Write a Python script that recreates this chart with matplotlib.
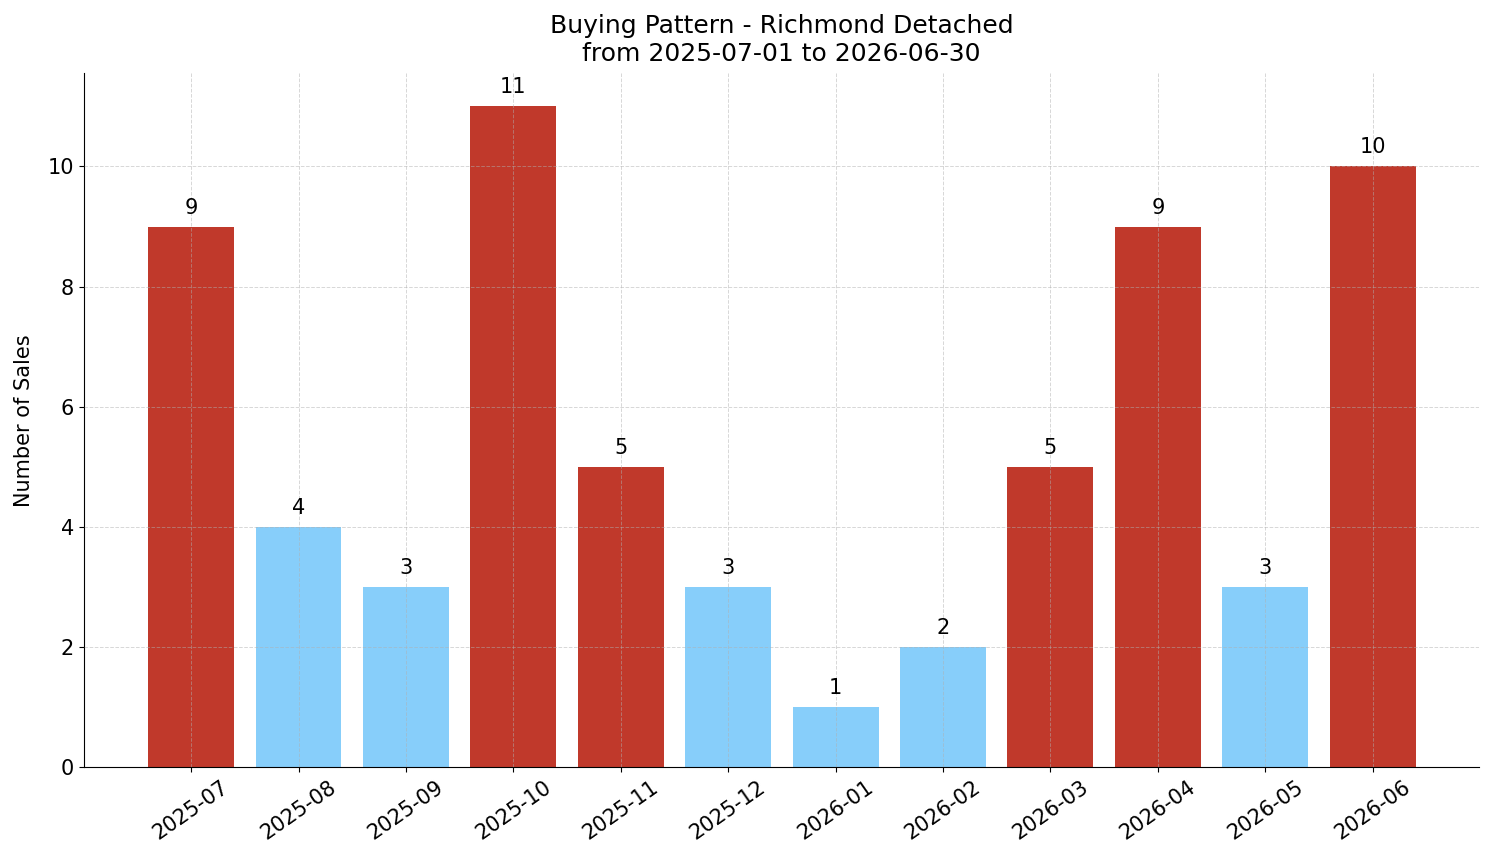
import matplotlib.pyplot as plt
import numpy as np

months = ['2025-07', '2025-08', '2025-09', '2025-10', '2025-11', '2025-12',
          '2026-01', '2026-02', '2026-03', '2026-04', '2026-05', '2026-06']
sales = [9, 4, 3, 11, 5, 3, 1, 2, 5, 9, 3, 10]

# busy months in red, quiet months in light blue
colors = ['#c0392b' if s >= 5 else '#87cefa' for s in sales]

fig, ax = plt.subplots(figsize=(14.94, 8.63), dpi=100)
x = np.arange(len(months))
bars = ax.bar(x, sales, color=colors, width=0.8, zorder=1)

for b, s in zip(bars, sales):
    ax.text(b.get_x() + b.get_width() / 2, s + 0.15, str(s),
            ha='center', va='bottom', fontsize=15)

ax.set_xticks(x)
ax.set_xticklabels(months, rotation=35, fontsize=15)
ax.tick_params(axis='y', labelsize=15)
ax.set_ylim(0, 11.55)
ax.set_xlim(-1.0, 11.99)
ax.set_ylabel('Number of Sales', fontsize=15, labelpad=10)
ax.set_title('Buying Pattern - Richmond Detached\nfrom 2025-07-01 to 2026-06-30',
             fontsize=18, pad=9)
ax.grid(True, linestyle='--', color='#b0b0b0', alpha=0.5, linewidth=0.7, zorder=2)
ax.set_axisbelow(False)
ax.spines['top'].set_visible(False)
ax.spines['right'].set_visible(False)

plt.subplots_adjust(left=0.056, right=0.99, top=0.915, bottom=0.111)
plt.savefig('out.png', dpi=100)
